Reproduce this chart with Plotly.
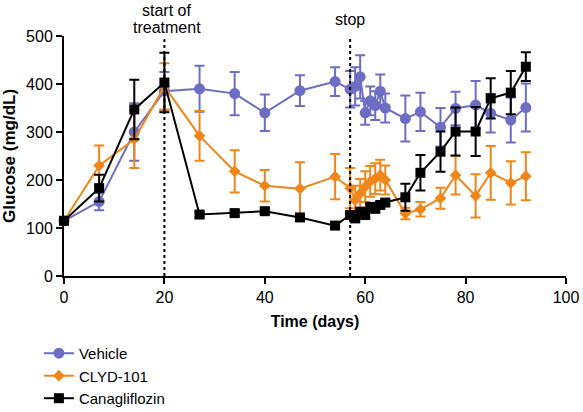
import plotly.graph_objects as go

# days of measurement
days = [0, 7, 14, 20, 27, 34, 40, 47, 54, 57, 58, 59, 60, 61, 62, 63, 64,
        68, 71, 75, 78, 82, 85, 89, 92]

vehicle = [115, 155, 300, 385, 390, 380, 340, 386, 405, 389, 395, 415, 340,
           365, 355, 385, 350, 328, 342, 310, 349, 356, 339, 325, 351]
vehicle_err = [5, 18, 60, 40, 48, 45, 38, 32, 30, 38, 40, 45, 25,
               30, 30, 35, 30, 48, 40, 40, 35, 50, 40, 47, 50]

clyd = [115, 230, 285, 395, 292, 218, 188, 182, 207, 183, 158, 172, 186,
        197, 203, 210, 200, 130, 139, 162, 210, 167, 215, 194, 208]
clyd_err = [5, 42, 60, 48, 52, 44, 33, 55, 47, 42, 30, 30, 32,
            32, 32, 32, 30, 12, 15, 22, 40, 45, 56, 45, 50]

cana = [115, 183, 347, 403, 128, 131, 135, 122, 105, 127, 120, 134, 127,
        144, 140, 148, 153, 164, 215, 259, 301, 301, 370, 382, 436]
cana_err = [4, 28, 62, 62, 6, 6, 6, 6, 6, 6, 6, 6, 6,
            6, 6, 6, 6, 28, 37, 42, 50, 51, 42, 45, 30]

fig = go.Figure()

series = [
    ("Vehicle", vehicle, vehicle_err, "#6d6dc4", "circle", 11),
    ("CLYD-101", clyd, clyd_err, "#f0861a", "diamond", 9),
    ("Canagliflozin", cana, cana_err, "#000000", "square", 10),
]
for name, vals, errs, col, sym, sz in series:
    fig.add_trace(go.Scatter(
        x=days, y=vals, name=name, mode="lines+markers",
        line=dict(color=col, width=2),
        marker=dict(color=col, symbol=sym, size=sz),
        error_y=dict(type="data", array=errs, color=col, thickness=2, width=5),
        cliponaxis=False,
    ))

# dotted markers for treatment start / stop
for xv in [20, 57]:
    fig.add_shape(type="line", x0=xv, x1=xv, y0=0, y1=502,
                  line=dict(color="black", width=2, dash="dot"))

notes = [(20.5, "start of", 26), (20.5, "treatment", 9), (57, "stop", 17)]
for xv, txt, shift in notes:
    fig.add_annotation(x=xv, y=1, yref="paper", yshift=shift, text=txt,
                       showarrow=False, yanchor="middle",
                       font=dict(size=16, color="black"))

fig.update_xaxes(range=[0, 100], tickvals=[0, 20, 40, 60, 80, 100],
                 showline=True, linecolor="black", linewidth=2,
                 ticks="outside", ticklen=6, tickwidth=2, tickcolor="black",
                 showgrid=False, zeroline=False, automargin=False,
                 tickfont=dict(size=16, color="black"),
                 title=dict(text="<b>Time (days)</b>", standoff=11,
                            font=dict(size=16, color="black")))
fig.update_yaxes(range=[0, 500], tickvals=[0, 100, 200, 300, 400, 500],
                 showline=True, linecolor="black", linewidth=2,
                 ticks="outside", ticklen=6, tickwidth=2, tickcolor="black",
                 showgrid=False, zeroline=False, automargin=False,
                 tickfont=dict(size=16, color="black"),
                 title=dict(text="<b>Glucose (mg/dL)</b>", standoff=8,
                            font=dict(size=17, color="black")))

# figure is a little taller than the window so the legend box never
# pushes the plot margins; the overflow is hidden
fig.update_layout(
    width=583, height=430,
    margin=dict(l=64, r=17, t=36, b=154),
    plot_bgcolor="white", paper_bgcolor="white",
    font=dict(family="Liberation Sans, Arial, sans-serif", color="black"),
    legend=dict(x=-0.05, y=-0.254, xanchor="left", yanchor="top",
                font=dict(size=15), tracegroupgap=0, itemsizing="trace"),
)
fig.update_xaxes(tickprefix="<b>", ticksuffix="</b>")
fig.update_yaxes(tickprefix="<b>", ticksuffix="</b>")

js = ("document.body.style.margin='0px';"
      "document.body.style.overflow='hidden';"
      "document.documentElement.style.overflow='hidden';")
fig.write_html("out.html", post_script=js, config={"displayModeBar": False})
